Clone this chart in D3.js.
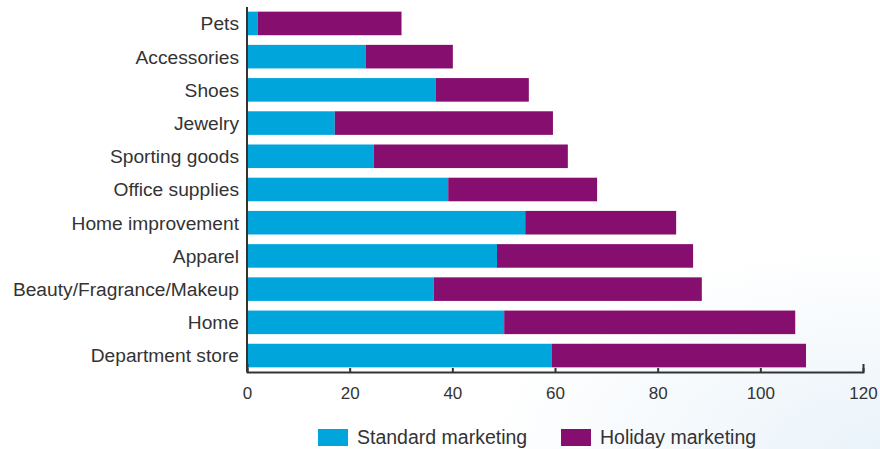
<!DOCTYPE html>
<html>
<head>
<meta charset="utf-8">
<script src="https://cdn.jsdelivr.net/npm/d3@7"></script>
<style>
  body { margin: 0; background: #fff; }
  svg { display: block; font-family: "Liberation Sans", Arial, sans-serif; }
  .tick text { fill: #333; }
</style>
</head>
<body>
<svg id="chart" width="880" height="449"></svg>
<script>
// categories top to bottom
const categories = ["Pets", "Accessories", "Shoes", "Jewelry", "Sporting goods", "Office supplies",
  "Home improvement", "Apparel", "Beauty/Fragrance/Makeup", "Home", "Department store"];
const standard = [2.1, 23.1, 36.8, 17.1, 24.7, 39.2, 54.2, 48.7, 36.4, 50.1, 59.4];
const holiday = [28, 17, 18.1, 42.5, 37.8, 29, 29.4, 38.2, 52.2, 56.7, 49.5];
const xTicks = [0, 20, 40, 60, 80, 100, 120];
const seriesNames = ["Standard marketing", "Holiday marketing"];
const colors = ["#00a6db", "#850e6e"];

const svg = d3.select("#chart");

// faint blue wash in the lower right corner
const defs = svg.append("defs");
const grad = defs.append("radialGradient").attr("id", "bg")
  .attr("cx", "100%").attr("cy", "100%").attr("r", "45%");
grad.append("stop").attr("offset", "0%").attr("stop-color", "#eaf3fa");
grad.append("stop").attr("offset", "100%").attr("stop-color", "#ffffff");
svg.append("rect").attr("width", 880).attr("height", 449).attr("fill", "url(#bg)");

const x = d3.scaleLinear().domain([0, 120]).range([247, 863]);
const y = d3.scaleBand().domain(categories).range([7, 372])
  .paddingInner(0.29).paddingOuter(0.14);

const rows = categories.map((c, i) => ({ cat: c, standard: standard[i], holiday: holiday[i] }));
const stacked = d3.stack().keys(["standard", "holiday"])(rows);

// Bars
svg.append("g").selectAll("g")
  .data(stacked)
  .join("g")
  .attr("fill", (d, i) => colors[i])
  .selectAll("rect")
  .data(d => d)
  .join("rect")
  .attr("x", d => x(d[0]))
  .attr("y", d => y(d.data.cat))
  .attr("width", d => x(d[1]) - x(d[0]))
  .attr("height", y.bandwidth());

// x axis
const xAxis = svg.append("g")
  .attr("transform", "translate(0,372)")
  .call(d3.axisBottom(x).tickValues(xTicks).tickSizeInner(-4).tickSizeOuter(-8).tickPadding(15));
xAxis.selectAll("text").style("font-size", "17px");
xAxis.selectAll("path, line").attr("stroke", "#333").attr("stroke-width", 2);

// y axis
const yAxis = svg.append("g")
  .attr("transform", "translate(247,0)")
  .call(d3.axisLeft(y).tickSize(0).tickPadding(8));
yAxis.select(".domain").attr("stroke", "#333").attr("stroke-width", 2).attr("d", "M0,7V372");
yAxis.selectAll("text").style("font-size", "19.2px").attr("dy", "0.36em");

// Legend
const legendX = [318, 561];
const legend = svg.append("g").selectAll("g")
  .data(seriesNames)
  .join("g")
  .attr("transform", (d, i) => "translate(" + legendX[i] + ",429)");
legend.append("rect").attr("width", 30).attr("height", 17).attr("fill", (d, i) => colors[i]);
legend.append("text").attr("x", 39).attr("y", 15)
  .attr("fill", "#333").style("font-size", "19.5px").text(d => d);
</script>
</body>
</html>
